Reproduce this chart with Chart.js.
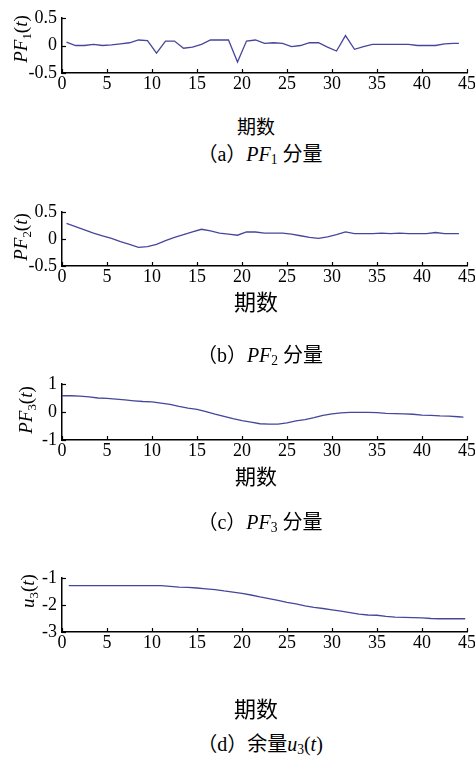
<!DOCTYPE html>
<html><head><meta charset="utf-8">
<script src="https://cdn.jsdelivr.net/npm/chart.js@4/dist/chart.umd.min.js"></script>
<style>
html,body{margin:0;padding:0;background:#fff;}
#root{position:relative;width:475px;height:765px;overflow:hidden;background:#fff;}
canvas{position:absolute;left:0;}
.ylab{position:absolute;font-family:"Liberation Serif",serif;font-size:19px;white-space:nowrap;transform:translate(-50%,-50%) rotate(-90deg);color:#000;}
.xlab{position:absolute;font-family:"Noto Sans CJK SC",sans-serif;white-space:nowrap;transform:translate(-50%,-50%);color:#000;}
.cap{position:absolute;font-family:"Liberation Serif","Noto Sans CJK SC",serif;font-size:20px;white-space:nowrap;transform:translate(-50%,-50%);color:#000;}
.cj{font-family:"Noto Sans CJK SC",sans-serif;}
i{font-style:italic;font-family:"Liberation Serif",serif;}
sub{font-size:0.68em;vertical-align:-0.28em;line-height:0;}
</style>
</head><body>
<div id="root">
<canvas id="ca" width="475" height="97" style="top:6px"></canvas>
<canvas id="cb" width="475" height="96" style="top:200px"></canvas>
<canvas id="cc" width="475" height="98" style="top:372px"></canvas>
<canvas id="cd" width="475" height="96" style="top:566px"></canvas>

<div class="ylab" style="left:21px;top:39px"><i>PF</i><sub>1</sub>(<i>t</i>)</div>
<div class="ylab" style="left:21px;top:237px"><i>PF</i><sub>2</sub>(<i>t</i>)</div>
<div class="ylab" style="left:26px;top:410px"><i>PF</i><sub>3</sub>(<i>t</i>)</div>
<div class="ylab" style="left:28px;top:591px"><i>u</i><sub>3</sub>(<i>t</i>)</div>

<div class="xlab" style="left:256px;top:125px;font-size:19px">期数</div>
<div class="xlab" style="left:256px;top:300px;font-size:22px">期数</div>
<div class="xlab" style="left:256px;top:475px;font-size:21px">期数</div>
<div class="xlab" style="left:256px;top:707px;font-size:22px">期数</div>

<div class="cap" style="left:260px;top:152px"><span class="cj">（</span>a<span class="cj">）</span><i>PF</i><sub>1</sub> <span class="cj">分量</span></div>
<div class="cap" style="left:260px;top:353px"><span class="cj">（</span>b<span class="cj">）</span><i>PF</i><sub>2</sub> <span class="cj">分量</span></div>
<div class="cap" style="left:260px;top:520px"><span class="cj">（</span>c<span class="cj">）</span><i>PF</i><sub>3</sub> <span class="cj">分量</span></div>
<div class="cap" style="left:260px;top:742px"><span class="cj">（</span>d<span class="cj">）余量</span><i>u</i><sub>3</sub>(<i>t</i>)</div>
</div>
<script>
// ---- data ----
const xTicks = [0,5,10,15,20,25,30,35,40,45];

const periodsAB = [0.5,1.5,2.5,3.5,4.5,5.5,6.5,7.5,8.5,9.5,10.5,11.5,12.5,13.5,14.5,15.5,16.5,17.5,18.5,19.5,20.5,21.5,22.5,23.5,24.5,25.5,26.5,27.5,28.5,29.5,30.5,31.5,32.5,33.5,34.5,35.5,36.5,37.5,38.5,39.5,40.5,41.5,42.5,43.5,44.1];

const pf1 = [0.06,0.00,0.00,0.02,0.00,0.01,0.03,0.05,0.10,0.09,-0.14,0.08,0.08,-0.05,-0.03,0.02,0.10,0.10,0.10,-0.30,0.08,0.10,0.04,0.05,0.04,-0.02,0.00,0.05,0.05,-0.03,-0.10,0.18,-0.07,-0.02,0.02,0.02,0.02,0.02,0.02,0.00,0.00,0.00,0.03,0.04,0.04];

const pf2 = [0.29,0.23,0.17,0.11,0.06,0.01,-0.05,-0.10,-0.155,-0.14,-0.10,-0.03,0.03,0.08,0.13,0.18,0.15,0.11,0.09,0.07,0.13,0.13,0.11,0.11,0.11,0.09,0.06,0.03,0.01,0.04,0.08,0.13,0.10,0.10,0.10,0.11,0.10,0.11,0.10,0.10,0.10,0.12,0.10,0.10,0.10];

const periodsC = [0,1,2,3,4,5,6,7,8,9,10,11,12,13,14,15,16,17,18,19,20,21,22,23,24,25,26,27,28,29,30,31,32,33,34,35,36,37,38,39,40,41,42,43,44,44.6];
const pf3 = [0.58,0.58,0.57,0.54,0.50,0.49,0.46,0.43,0.40,0.375,0.36,0.32,0.27,0.20,0.14,0.09,0.01,-0.08,-0.16,-0.24,-0.31,-0.36,-0.42,-0.43,-0.43,-0.39,-0.32,-0.27,-0.20,-0.12,-0.07,-0.03,-0.01,-0.01,-0.01,-0.02,-0.05,-0.06,-0.07,-0.08,-0.11,-0.12,-0.14,-0.15,-0.17,-0.18];

const periodsD = [0.75,1,2,3,4,5,6,7,8,9,10,11,12,13,14,15,16,17,18,19,20,21,22,23,24,25,26,27,28,29,30,31,32,33,34,35,36,37,38,39,40,41,42,43,44,44.8];
const u3 = [-1.28,-1.28,-1.28,-1.28,-1.28,-1.28,-1.28,-1.28,-1.28,-1.28,-1.28,-1.28,-1.31,-1.34,-1.35,-1.37,-1.40,-1.43,-1.48,-1.52,-1.57,-1.63,-1.70,-1.76,-1.83,-1.90,-1.96,-2.03,-2.09,-2.13,-2.18,-2.23,-2.28,-2.34,-2.37,-2.38,-2.42,-2.45,-2.46,-2.47,-2.48,-2.50,-2.51,-2.51,-2.51,-2.51];

const yTicksAB = [-0.5,0,0.5];
const yTicksC = [-1,0,1];
const yTicksD = [-3,-2,-1];

// ---- drawing ----
const inwardTicks = {
  id:'inwardTicks',
  afterDraw(chart){
    const ctx = chart.ctx, a = chart.chartArea;
    const xs = chart.scales.x, ys = chart.scales.y;
    ctx.save();
    ctx.strokeStyle = '#000'; ctx.lineWidth = 1.2;
    xs.ticks.forEach(t => {
      const px = Math.round(xs.getPixelForValue(t.value)) + 0.5;
      ctx.beginPath(); ctx.moveTo(px, a.bottom); ctx.lineTo(px, a.bottom - 4); ctx.stroke();
    });
    ys.ticks.forEach(t => {
      const py = Math.round(ys.getPixelForValue(t.value)) + 0.5;
      ctx.beginPath(); ctx.moveTo(a.left, py); ctx.lineTo(a.left + 4, py); ctx.stroke();
    });
    ctx.restore();
  }
};

function fmt(v){ return String(v); }

function makeChart(id, periods, values, yTicks){
  const pts = periods.map((p,i) => ({x:p, y:values[i]}));
  new Chart(document.getElementById(id), {
    type:'line',
    data:{datasets:[{data:pts, borderColor:'#46469c', borderWidth:1.3, pointRadius:0, tension:0, fill:false}]},
    options:{
      responsive:false, animation:false, events:[],
      layout:{padding:{top:12, left:0, right:0, bottom:0}},
      plugins:{legend:{display:false}, tooltip:{enabled:false}},
      scales:{
        x:{type:'linear', min:0, max:45,
           afterBuildTicks: s => { s.ticks = xTicks.map(v => ({value:v})); },
           afterFit: s => { s.height = 30; s.paddingRight = 8; },
           grid:{display:false, drawTicks:false},
           border:{display:true, color:'#000', width:1.5},
           ticks:{color:'#000', padding:0, maxRotation:0, autoSkip:false,
                  font:{family:'"Liberation Serif", serif', size:18}, callback:v => fmt(v)}},
        y:{type:'linear', min:yTicks[0], max:yTicks[yTicks.length-1],
           afterBuildTicks: s => { s.ticks = yTicks.map(v => ({value:v})); },
           afterFit: s => { s.width = 62; s.paddingTop = 0; s.paddingBottom = 0; },
           grid:{display:false, drawTicks:false},
           border:{display:true, color:'#000', width:1.5},
           ticks:{color:'#000', padding:5, autoSkip:false,
                  font:{family:'"Liberation Serif", serif', size:18}, callback:v => fmt(v)}}
      }
    },
    plugins:[inwardTicks]
  });
}

makeChart('ca', periodsAB, pf1, yTicksAB);
makeChart('cb', periodsAB, pf2, yTicksAB);
makeChart('cc', periodsC, pf3, yTicksC);
makeChart('cd', periodsD, u3, yTicksD);
</script>
</body></html>
